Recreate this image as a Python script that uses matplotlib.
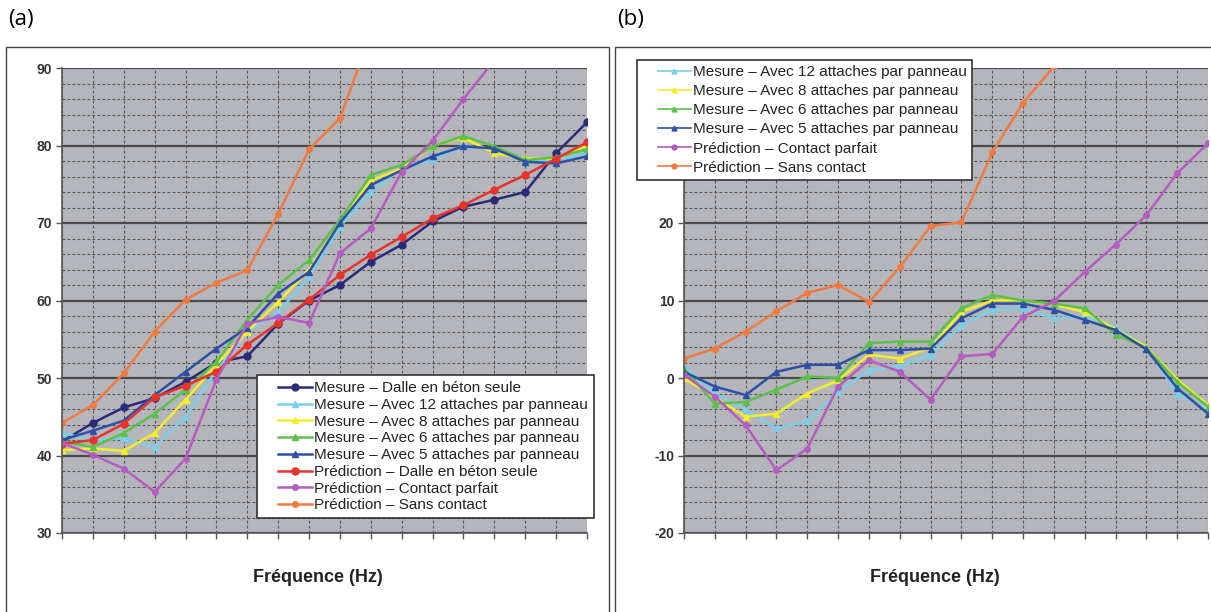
import matplotlib.pyplot as plt
import numpy as np
from matplotlib.lines import Line2D
from matplotlib.legend_handler import HandlerLine2D
from matplotlib.patches import Rectangle

plt.rcParams['font.family'] = ['Liberation Sans', 'DejaVu Sans']
plt.rcParams['axes.unicode_minus'] = False

# 1/3-octave bands, 100 Hz - 5 kHz (not labelled on the axis)
bands = [100, 125, 160, 200, 250, 315, 400, 500, 630, 800,
         1000, 1250, 1600, 2000, 2500, 3150, 4000, 5000]

# (a) levels, dB
a_dalle = [41.8, 44.2, 46.2, 47.4, 49.5, 52.0, 52.8, 57.0, 60.0, 62.0,
           65.0, 67.2, 70.2, 72.1, 73.0, 74.0, 79.0, 83.0]
a_att12 = [42.9, 42.0, 42.2, 41.1, 45.0, 51.0, 56.0, 58.5, 63.0, 69.5,
           74.0, 77.0, 78.2, 80.0, 79.5, 78.0, 78.0, 79.0]
a_att8 = [40.7, 40.9, 40.6, 42.9, 47.2, 51.7, 56.0, 59.8, 64.0, 70.0,
          75.5, 77.0, 80.0, 81.0, 79.0, 78.3, 78.3, 80.0]
a_att6 = [41.8, 41.1, 42.9, 45.4, 48.5, 52.1, 57.5, 62.0, 65.2, 70.4,
          76.2, 77.5, 79.9, 81.2, 79.9, 78.1, 78.5, 79.5]
a_att5 = [42.0, 43.2, 44.5, 47.8, 50.8, 53.8, 56.5, 60.9, 63.7, 70.0,
          74.9, 76.8, 78.6, 79.9, 79.6, 77.9, 77.7, 78.6]
a_pred_dalle = [41.5, 42.0, 44.1, 47.5, 49.0, 50.8, 54.3, 57.1, 60.1, 63.3,
                65.9, 68.2, 70.6, 72.3, 74.3, 76.2, 78.3, 80.4]
a_pred_parfait = [41.6, 40.1, 38.3, 35.3, 39.6, 49.8, 57.0, 57.9, 57.1, 66.1,
                  69.3, 76.6, 80.6, 86.0, 91.0]
a_pred_sans = [44.2, 46.5, 50.6, 56.0, 60.1, 62.3, 63.9, 71.2, 79.5, 83.5,
               94.5]

# (b) differences, dB
b_att12 = [1.5, -2.0, -4.1, -6.5, -5.6, -1.8, 1.0, 1.5, 3.0, 6.8,
           8.8, 9.0, 7.7, 8.0, 6.6, 4.0, -2.0, -4.0]
b_att8 = [0.0, -2.5, -5.0, -4.6, -2.0, -0.3, 3.0, 2.5, 3.9, 8.5,
          10.0, 10.0, 9.5, 8.5, 6.3, 4.0, -0.2, -3.5]
b_att6 = [1.2, -3.3, -3.1, -1.5, 0.2, 0.0, 4.5, 4.7, 4.7, 9.0,
          10.7, 10.0, 9.6, 9.0, 5.6, 3.9, -0.5, -3.7]
b_att5 = [0.8, -1.1, -2.2, 0.8, 1.7, 1.7, 3.6, 3.6, 3.8, 7.7,
          9.6, 9.6, 8.8, 7.5, 6.2, 3.7, -1.3, -4.6]
b_pred_parfait = [0.4, -2.4, -6.1, -11.9, -9.1, -1.1, 2.3, 0.8, -2.8, 2.8,
                  3.1, 7.9, 9.9, 13.7, 17.2, 21.0, 26.4, 30.3]
b_pred_sans = [2.5, 3.8, 6.0, 8.6, 11.0, 12.0, 9.8, 14.3, 19.6, 20.1,
               29.1, 35.5, 40.2, 41.5]

labels = {
    'dalle': 'Mesure \u2013 Dalle en béton seule',
    'att12': 'Mesure \u2013 Avec 12 attaches par panneau',
    'att8': 'Mesure \u2013 Avec 8 attaches par panneau',
    'att6': 'Mesure \u2013 Avec 6 attaches par panneau',
    'att5': 'Mesure \u2013 Avec 5 attaches par panneau',
    'pred_dalle': 'Prédiction \u2013 Dalle en béton seule',
    'pred_parfait': 'Prédiction \u2013 Contact parfait',
    'pred_sans': 'Prédiction \u2013 Sans contact',
}
colors = {
    'dalle': '#2b2a78', 'att12': '#7ccfe8', 'att8': '#f2ee2a',
    'att6': '#5cc04a', 'att5': '#2e4fa8', 'pred_dalle': '#e8322c',
    'pred_parfait': '#b45cc0', 'pred_sans': '#f07a40',
}
markers = {
    'dalle': 'o', 'att12': '^', 'att8': '^', 'att6': '^', 'att5': '^',
    'pred_dalle': 'o', 'pred_parfait': 'o', 'pred_sans': 'o',
}

W, H = 1211, 612
bg = '#b5b6bc'


def px_box(x0, y0, x1, y1):
    return [x0 / W, 1 - y1 / H, (x1 - x0) / W, (y1 - y0) / H]


def style_axes(ax, ylo, yhi):
    ax.set_facecolor(bg)
    ax.set_xlim(0, len(bands) - 1)
    ax.set_ylim(ylo, yhi)
    ax.set_xticks(np.arange(len(bands)))
    ax.set_xticklabels([])
    ax.set_yticks(np.arange(ylo, yhi + 1, 10))
    ax.set_yticks(np.arange(ylo, yhi, 2), minor=True)
    ax.grid(which='major', axis='y', color='#4a4a4a', lw=1.6)
    ax.grid(which='minor', axis='y', color='#555555', lw=0.8, ls=(0, (2.5, 2)))
    ax.grid(which='major', axis='x', color='#555555', lw=0.8, ls=(0, (2.5, 2)))
    ax.set_axisbelow(True)
    for side in ('top', 'right'):
        ax.spines[side].set_visible(False)
    for side in ('left', 'bottom'):
        ax.spines[side].set_color('#555555')
        ax.spines[side].set_linewidth(1.2)
    ax.tick_params(axis='y', which='major', length=4, width=1, color='#555555',
                   labelsize=10, labelcolor='#333333', pad=3)
    ax.tick_params(axis='y', which='minor', length=0)
    ax.tick_params(axis='x', length=4, width=1, color='#555555')
    for t in ax.get_yticklabels():
        t.set_fontweight('bold')


def draw(ax, key, values, lw=1.8, ms=5):
    ax.plot(np.arange(len(values)), values, color=colors[key], lw=lw,
            marker=markers[key], ms=ms, label=labels[key])


fig = plt.figure(figsize=(W / 100, H / 100), dpi=100)

# panel frames
fig.add_artist(Rectangle((6 / W, -0.02), (609 - 6) / W, 1.02 - 47 / H,
                         transform=fig.transFigure, fill=False,
                         ec='#444444', lw=1))
fig.add_artist(Rectangle((615 / W, -0.02), 0.6, 1.02 - 47 / H,
                         transform=fig.transFigure, fill=False,
                         ec='#444444', lw=1))

ax_a = fig.add_axes(px_box(62, 68, 587, 533))
ax_b = fig.add_axes(px_box(684, 68, 1208, 533))
style_axes(ax_a, 30, 90)
style_axes(ax_b, -20, 40)

draw(ax_a, 'dalle', a_dalle)
draw(ax_a, 'att12', a_att12)
draw(ax_a, 'att8', a_att8)
draw(ax_a, 'att6', a_att6)
draw(ax_a, 'att5', a_att5)
draw(ax_a, 'pred_dalle', a_pred_dalle)
draw(ax_a, 'pred_parfait', a_pred_parfait, ms=4)
draw(ax_a, 'pred_sans', a_pred_sans, ms=4)

draw(ax_b, 'att12', b_att12)
draw(ax_b, 'att8', b_att8)
draw(ax_b, 'att6', b_att6)
draw(ax_b, 'att5', b_att5)
draw(ax_b, 'pred_parfait', b_pred_parfait, ms=4)
draw(ax_b, 'pred_sans', b_pred_sans, ms=4)

# handle lines start a little in from the legend border
handler = {Line2D: HandlerLine2D(xpad=1.0)}
leg_kw = dict(fontsize=11, frameon=True, fancybox=False, framealpha=1,
              edgecolor='#333333', handlelength=3.2, handletextpad=0.1,
              borderaxespad=0, handler_map=handler,
              bbox_transform=fig.transFigure)
leg_a = ax_a.legend(loc='upper left', bbox_to_anchor=(257 / W, 1 - 375 / H),
                    labelspacing=0.18, borderpad=0.4, **leg_kw)
leg_b = ax_b.legend(loc='upper left', bbox_to_anchor=(637 / W, 1 - 60 / H),
                    labelspacing=0.33, borderpad=0.35, **leg_kw)
for leg in (leg_a, leg_b):
    leg.get_frame().set_linewidth(1.2)
    for t in leg.get_texts():
        t.set_color('#222222')
for h in leg_b.legend_handles:
    h.set_linewidth(1.2)
    h.set_markersize(3.5)

for xc in (318, 935):
    fig.text(xc / W, 1 - 577 / H, 'Fréquence (Hz)', ha='center', va='center',
             fontsize=13, fontweight='bold', color='#222222')

fig.text(8 / W, 1 - 20 / H, '(a)', ha='left', va='center', fontsize=16,
         family=['Open Sans', 'DejaVu Sans'])
fig.text(617 / W, 1 - 20 / H, '(b)', ha='left', va='center', fontsize=16,
         family=['Open Sans', 'DejaVu Sans'])

fig.savefig('out.png', dpi=100)
